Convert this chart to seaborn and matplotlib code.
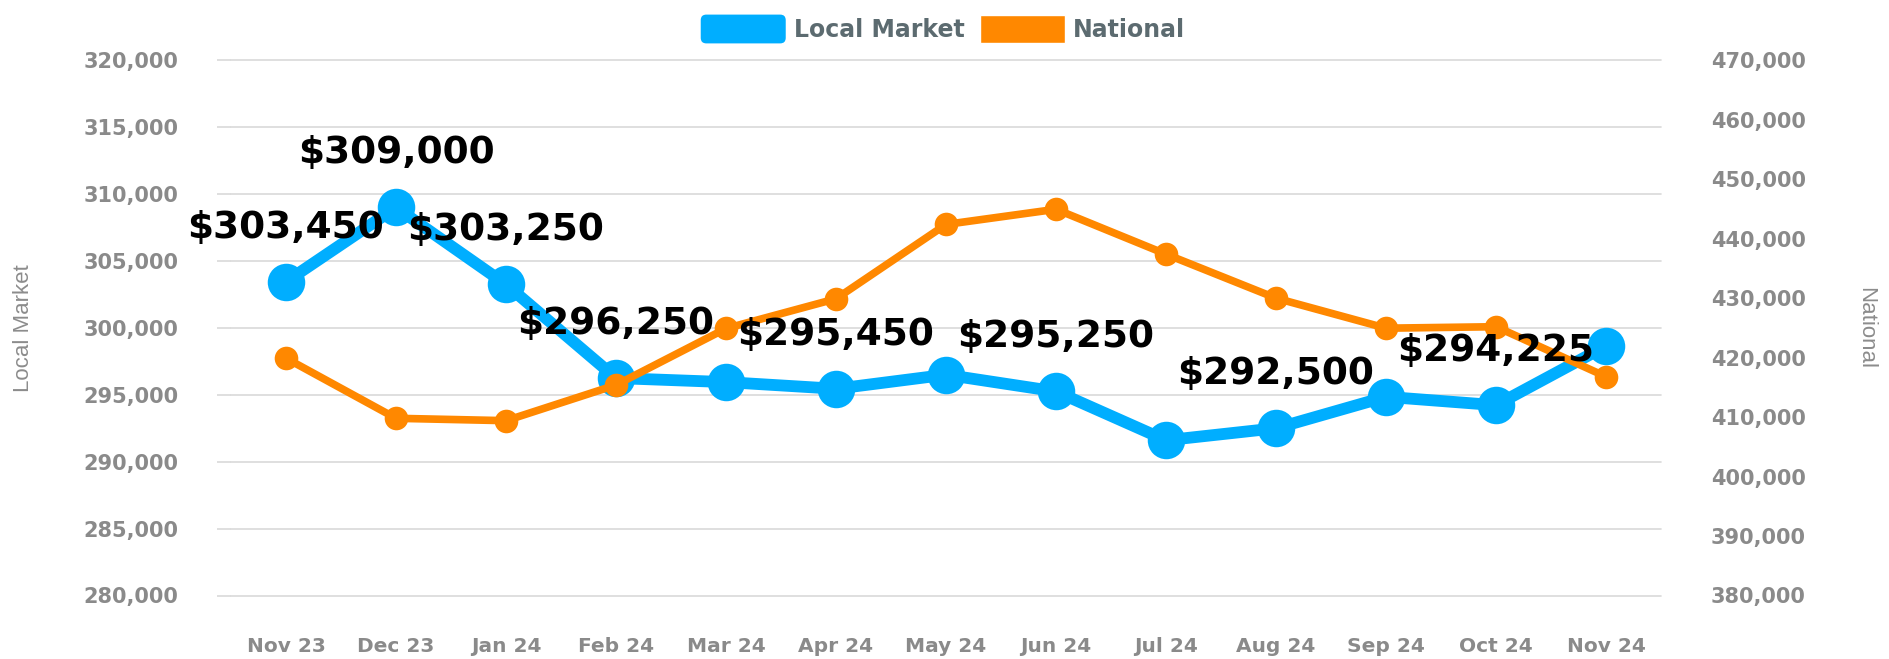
import numpy as np
import pandas as pd
import matplotlib
matplotlib.use("Agg")
import matplotlib.pyplot as plt
from matplotlib.patches import Patch, FancyBboxPatch
from matplotlib.legend_handler import HandlerPatch
import seaborn as sns

# data
months = ["Nov 23", "Dec 23", "Jan 24", "Feb 24", "Mar 24", "Apr 24", "May 24",
          "Jun 24", "Jul 24", "Aug 24", "Sep 24", "Oct 24", "Nov 24"]
local_market = [303450, 309000, 303250, 296250, 295950, 295450, 296500,
                295250, 291600, 292500, 294850, 294225, 298650]
national = [419900, 409800, 409400, 415400, 424900, 429900, 442400,
            444950, 437400, 430000, 424950, 425200, 416800]
# months whose local value is printed above the point
labelled = ["Nov 23", "Dec 23", "Jan 24", "Feb 24", "Apr 24", "Jun 24", "Aug 24", "Oct 24"]

local_ticks = list(range(280000, 320001, 5000))
national_ticks = list(range(380000, 470001, 10000))

df = pd.DataFrame({"month": months, "local": local_market, "national": national})
df["pos"] = range(len(df))

BLUE = "#00aeff"
ORANGE = "#ff8800"
GRID = "#d9d9d9"
TICK = "#8a8a8a"

sns.set_theme(style="white")
plt.rcParams["font.family"] = ["DejaVu Sans"]


class RoundedHandler(HandlerPatch):
    # legend box with softened corners, like the blue swatch in the original
    def create_artists(self, legend, orig_handle, xdescent, ydescent, width, height, fontsize, trans):
        p = FancyBboxPatch((-xdescent, -ydescent), width, height,
                           boxstyle="round,pad=0,rounding_size=4",
                           fc=orig_handle.get_facecolor(), ec="none", transform=trans)
        return [p]


fig = plt.figure(figsize=(18.9, 6.59), dpi=100)
ax = fig.add_axes([231 / 1890, 1 - 595.5 / 659, 1430 / 1890, 535.2 / 659])
ax2 = ax.twinx()

sns.lineplot(data=df, x="pos", y="local", ax=ax, color=BLUE, lw=8.5, marker="o",
             markersize=27, markeredgewidth=0, legend=False)
sns.lineplot(data=df, x="pos", y="national", ax=ax2, color=ORANGE, lw=5.5, marker="o",
             markersize=17, markeredgewidth=0, legend=False)

ax.set_xlim(-0.5, 12.5)
ax.set_ylim(280000, 320000)
ax2.set_ylim(380000, 470000)

ax.set_yticks(local_ticks, [f"{t:,}" for t in local_ticks], fontweight="bold")
ax2.set_yticks(national_ticks, [f"{t:,}" for t in national_ticks], fontweight="bold")
ax.set_xticks(df["pos"], df["month"], fontweight="bold")

ax.tick_params(axis="y", length=10, width=1.2, color=GRID, pad=28, labelsize=15, labelcolor=TICK)
ax2.tick_params(axis="y", length=0, pad=36, labelsize=15, labelcolor=TICK)
ax.tick_params(axis="x", length=0, pad=30, labelsize=14.5, labelcolor=TICK)

ax.yaxis.grid(True, color=GRID, lw=1.2)
ax.xaxis.grid(False)
ax2.grid(False)
# keep the top and bottom gridlines whole instead of half clipped
for gl in ax.get_ygridlines():
    gl.set_clip_on(False)
for a in (ax, ax2):
    for s in a.spines.values():
        s.set_visible(False)
ax.set_xlabel("")
ax.set_ylabel("")
ax2.set_ylabel("")

# value labels above the local market points, drawn on top of both lines
for i, m, v in zip(df["pos"], df["month"], df["local"]):
    if m in labelled:
        ax2.annotate(f"${v:,}", xy=(i, v), xycoords=ax.transData, xytext=(0, 39),
                     textcoords="offset points", ha="center", va="center",
                     fontsize=27, fontweight="bold", family="DejaVu Sans",
                     color="black", zorder=10)

fig.text(24 / 1890, 0.5024, "Local Market", rotation=90, ha="center", va="center",
         fontsize=16, color="#8c8c8c", family="Liberation Sans")
fig.text(1866 / 1890, 0.5024, "National", rotation=270, ha="center", va="center",
         fontsize=16, color="#8c8c8c", family="Liberation Sans")

handles = [Patch(fc=BLUE, label="Local Market"), Patch(fc=ORANGE, label="National")]
fig.legend(handles=handles, handler_map={handles[0]: RoundedHandler()},
           loc="center", bbox_to_anchor=(0.499, 0.956), ncol=2, frameon=False,
           prop={"weight": "bold", "size": 17}, labelcolor="#5c6b70",
           handlelength=3.6, handleheight=1.5, handletextpad=0.35, columnspacing=0.65)

fig.savefig("out.png", dpi=100)
